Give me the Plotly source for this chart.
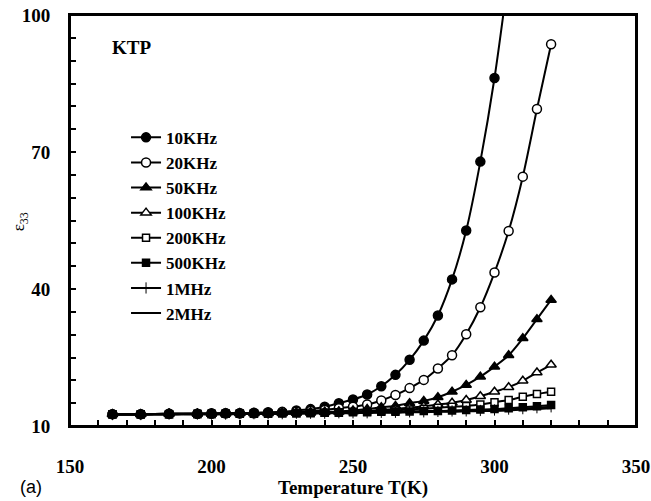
import plotly.graph_objects as go

# Temperatures (K)
temps = [165, 175, 185, 195, 200, 205, 210, 215, 220, 225, 230, 235, 240, 245,
         250, 255, 260, 265, 270, 275, 280, 285, 290, 295, 300, 305, 310, 315, 320]
temps_10k = temps[:26]  # 10KHz measured up to 305 K (last point off-scale)

eps_10k = [12.6, 12.6, 12.7, 12.7, 12.8, 12.8, 12.8, 12.9, 13.0, 13.1, 13.4, 13.7, 14.2, 15.0,
           15.8, 16.9, 18.7, 21.2, 24.5, 28.7, 34.2, 42.1, 52.8, 67.9, 86.2, 109.0]
eps_20k = [12.6, 12.6, 12.7, 12.7, 12.7, 12.8, 12.8, 12.8, 12.9, 13.0, 13.1, 13.3, 13.5, 13.9,
           14.2, 14.7, 15.6, 16.8, 18.3, 20.1, 22.6, 25.5, 30.1, 36.0, 43.6, 52.7, 64.6, 79.4, 93.6]
eps_50k = [12.6, 12.6, 12.7, 12.7, 12.7, 12.8, 12.8, 12.8, 12.8, 12.9, 12.9, 13.0, 13.1, 13.2,
           13.4, 13.7, 14.1, 14.4, 15.0, 15.5, 16.3, 17.5, 19.0, 20.8, 23.0, 25.5, 29.2, 33.4, 37.6]
eps_100k = [12.6, 12.6, 12.7, 12.7, 12.7, 12.7, 12.8, 12.8, 12.8, 12.8, 12.9, 12.9, 13.0, 13.1,
            13.2, 13.3, 13.5, 13.7, 14.0, 14.3, 14.7, 15.1, 15.7, 16.5, 17.5, 18.5, 19.9, 21.7, 23.4]
eps_200k = [12.6, 12.6, 12.6, 12.7, 12.7, 12.7, 12.7, 12.8, 12.8, 12.8, 12.8, 12.9, 12.9, 13.0,
            13.1, 13.2, 13.3, 13.4, 13.6, 13.8, 14.0, 14.2, 14.4, 14.7, 15.2, 15.7, 16.4, 17.0, 17.5]
eps_500k = [12.5, 12.5, 12.6, 12.6, 12.6, 12.7, 12.7, 12.7, 12.7, 12.8, 12.8, 12.8, 12.9, 12.9,
            13.0, 13.0, 13.1, 13.1, 13.2, 13.3, 13.3, 13.4, 13.5, 13.6, 13.7, 13.9, 14.1, 14.3, 14.6]
eps_1m = [12.5, 12.5, 12.6, 12.6, 12.6, 12.6, 12.7, 12.7, 12.7, 12.7, 12.8, 12.8, 12.8, 12.9,
          12.9, 12.9, 13.0, 13.0, 13.1, 13.1, 13.2, 13.3, 13.3, 13.4, 13.5, 13.7, 13.8, 14.0, 14.2]
eps_2m = [12.5, 12.5, 12.5, 12.6, 12.6, 12.6, 12.6, 12.7, 12.7, 12.7, 12.7, 12.8, 12.8, 12.8,
          12.8, 12.9, 12.9, 12.9, 13.0, 13.0, 13.1, 13.1, 13.2, 13.3, 13.3, 13.4, 13.6, 13.7, 13.9]

series_names = ["10KHz", "20KHz", "50KHz", "100KHz", "200KHz", "500KHz", "1MHz", "2MHz"]

x_tickvals = list(range(150, 351, 10))
x_ticktext = [str(v) if v % 50 == 0 else "" for v in x_tickvals]
y_tickvals = list(range(10, 101, 5))
y_ticktext = [str(v) if v in (10, 40, 70, 100) else "" for v in y_tickvals]

SERIF = "Liberation Serif"
BLACK = "black"

fig = go.Figure()

def add(name, xs, ys, symbol, fill, size=8, mode="lines+markers", mlw=1.5):
    marker = dict(symbol=symbol, size=size, color=fill,
                  line=dict(color=BLACK, width=mlw))
    fig.add_trace(go.Scatter(
        x=xs, y=ys, name=name, mode=mode,
        line=dict(color=BLACK, width=2, shape="spline", smoothing=0.8),
        marker=marker,
    ))

add(series_names[0], temps_10k, eps_10k, "circle", BLACK, size=9)
add(series_names[1], temps, eps_20k, "circle", "white", size=9)
add(series_names[2], temps, eps_50k, "triangle-up", BLACK, size=9)
add(series_names[3], temps, eps_100k, "triangle-up", "white", size=9)
add(series_names[4], temps, eps_200k, "square", "white", size=7)
add(series_names[5], temps, eps_500k, "square", BLACK, size=7)
add(series_names[6], temps, eps_1m, "line-ns", BLACK, size=8, mlw=1)
fig.add_trace(go.Scatter(x=temps, y=eps_2m, name=series_names[7], mode="lines",
                         line=dict(color=BLACK, width=2, shape="spline", smoothing=0.8)))

axis_common = dict(
    showline=True, linecolor=BLACK, linewidth=2, mirror=True,
    ticks="inside", ticklen=6, tickwidth=1.5, tickcolor=BLACK,
    showgrid=False, zeroline=False, automargin=False,
    ticklabeloverflow="allow",
    tickfont=dict(family=SERIF, size=19, color=BLACK, weight="bold"),
)

fig.update_xaxes(range=[150, 350], tickmode="array", tickvals=x_tickvals,
                 ticktext=x_ticktext, ticklabelstandoff=22,
                 title=dict(text="Temperature T(K)", standoff=4,
                            font=dict(family=SERIF, size=19, color=BLACK, weight="bold")),
                 **axis_common)
fig.update_yaxes(range=[10, 100], tickmode="array", tickvals=y_tickvals,
                 ticktext=y_ticktext, ticklabelstandoff=14, **axis_common)

fig.update_layout(
    width=651, height=501,
    margin=dict(l=70, r=15, t=15, b=75),
    paper_bgcolor="white", plot_bgcolor="white",
    showlegend=True,
    legend=dict(x=0.099, y=0.745, xanchor="left", yanchor="top",
                bgcolor="rgba(0,0,0,0)", borderwidth=0,
                font=dict(family=SERIF, size=17, color=BLACK, weight="bold"),
                itemwidth=30, tracegroupgap=0),
    shapes=[dict(type="rect", xref="paper", yref="paper", x0=0, x1=1, y0=0, y1=1,
                 line=dict(color=BLACK, width=2), fillcolor="rgba(0,0,0,0)", layer="above")],
    annotations=[
        dict(text="KTP", x=0.108, y=0.922, xref="paper", yref="paper",
             xanchor="center", yanchor="middle", showarrow=False,
             font=dict(family=SERIF, size=19, color=BLACK, weight="bold")),
        dict(text="ε<sub>33</sub>", x=-0.088, y=0.496, xref="paper", yref="paper",
             xanchor="center", yanchor="middle", showarrow=False, textangle=-90,
             font=dict(family=SERIF, size=17, color=BLACK)),
        dict(text="(a)", x=-0.092, y=-0.148, xref="paper", yref="paper",
             xanchor="left", yanchor="middle", showarrow=False,
             font=dict(family="Liberation Sans", size=18, color=BLACK)),
    ],
)

# remove the default page margin so the figure fills the window exactly
fig.write_html("out.html",
               config={"displayModeBar": False},
               post_script="document.body.style.margin='0';document.body.style.overflow='hidden';")
